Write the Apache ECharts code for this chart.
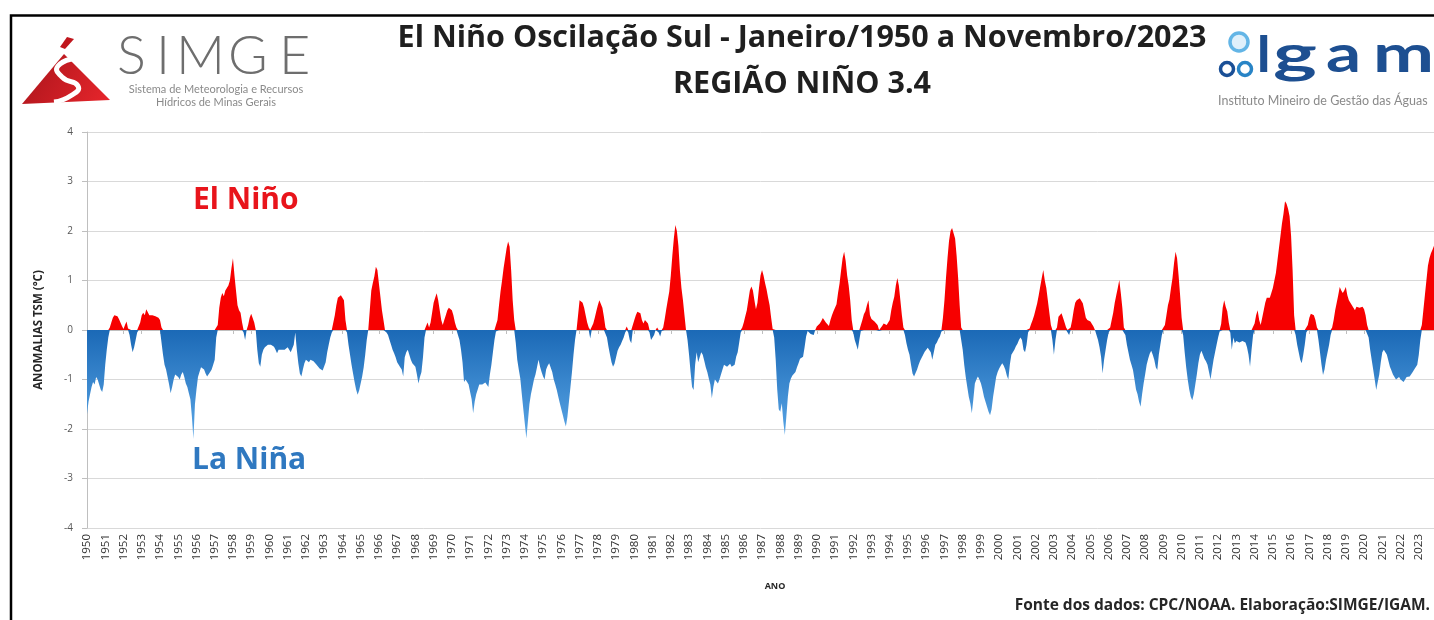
<!DOCTYPE html>
<html>
<head>
<meta charset="utf-8">
<script src="https://cdn.jsdelivr.net/npm/echarts@6/dist/echarts.min.js"></script>
<style>html,body{margin:0;padding:0;background:#fff}#c{width:1434px;height:620px}</style>
</head>
<body>
<div id="c"></div>
<script>
// ---- tick labels ----
const yearLabels = ['1950','1951','1952','1953','1954','1955','1956','1957','1958','1959',
'1960','1961','1962','1963','1964','1965','1966','1967','1968','1969',
'1970','1971','1972','1973','1974','1975','1976','1977','1978','1979',
'1980','1981','1982','1983','1984','1985','1986','1987','1988','1989',
'1990','1991','1992','1993','1994','1995','1996','1997','1998','1999',
'2000','2001','2002','2003','2004','2005','2006','2007','2008','2009',
'2010','2011','2012','2013','2014','2015','2016','2017','2018','2019',
'2020','2021','2022','2023'];
const monthLabels = ['01','02','03','04','05','06','07','08','09','10','11','12'];

// ---- monthly SST anomalies (°C), Niño 3.4, Jan/1950 .. Nov/2023 ----
const anom1950s = [
-1.7,-1.45,-1.3,-1.15,-1.05,-1.1,-0.95,-1.0,-1.1,-1.2,-1.25,-1.1,
-0.7,-0.4,-0.15,0.05,0.15,0.25,0.3,0.32,0.28,0.22,0.15,0.08,
0.02,0.1,0.17,0.03,-0.1,-0.3,-0.45,-0.35,-0.2,-0.05,0.0,0.15,
0.3,0.35,0.3,0.42,0.38,0.3,0.27,0.3,0.3,0.28,0.27,0.25,
0.2,0.05,-0.5,-0.7,-0.8,-0.95,-1.1,-1.28,-1.15,-1.0,-0.9,-0.9,
-0.95,-1.0,-0.9,-0.85,-0.95,-1.08,-1.15,-1.28,-1.4,-1.75,-2.2,-1.5,
-1.2,-0.95,-0.85,-0.75,-0.78,-0.8,-0.88,-0.94,-0.9,-0.85,-0.8,-0.7,
-0.6,-0.15,0.1,0.45,0.65,0.75,0.68,0.8,0.85,0.9,1.0,1.25,
1.45,1.1,0.8,0.5,0.4,0.35,0.15,-0.05,-0.2,0.0,0.1,0.25,
0.33,0.3,0.15,0.0,-0.4,-0.67,-0.74,-0.5,-0.4,-0.35,-0.34,-0.3];
const anom1960s = [
-0.27,-0.3,-0.3,-0.34,-0.4,-0.47,-0.4,-0.38,-0.4,-0.42,-0.4,-0.38,
-0.35,-0.4,-0.45,-0.47,-0.3,-0.05,-0.4,-0.67,-0.88,-0.94,-0.8,-0.67,
-0.6,-0.62,-0.65,-0.6,-0.62,-0.63,-0.65,-0.7,-0.74,-0.78,-0.8,-0.82,
-0.8,-0.65,-0.45,-0.3,-0.15,-0.05,0.02,0.3,0.5,0.65,0.68,0.7,
0.74,0.6,0.2,-0.05,-0.3,-0.5,-0.7,-0.88,-1.05,-1.2,-1.31,-1.22,
-1.2,-0.94,-0.75,-0.5,-0.2,0.0,0.4,0.8,0.95,1.08,1.28,1.21,
0.94,0.67,0.4,0.2,0.0,-0.05,-0.1,-0.2,-0.3,-0.4,-0.47,-0.55,
-0.65,-0.7,-0.75,-0.8,-0.94,-0.55,-0.45,-0.4,-0.5,-0.6,-0.67,-0.7,
-0.74,-0.9,-1.08,-0.95,-0.85,-0.55,-0.15,0.0,0.15,0.05,0.15,0.35,
0.55,0.65,0.74,0.6,0.4,0.2,0.1,0.2,0.3,0.4,0.45,0.47];
const anom1970s = [
0.4,0.3,0.15,0.05,0.0,-0.2,-0.4,-0.65,-1.05,-1.0,-1.05,-1.1,
-1.25,-1.4,-1.68,-1.45,-1.3,-1.2,-1.1,-1.12,-1.1,-1.08,-1.06,-1.08,
-1.15,-0.9,-0.7,-0.45,-0.2,-0.03,0.2,0.5,0.78,1.0,1.25,1.45,
1.65,1.79,1.68,1.2,0.6,0.2,-0.25,-0.6,-0.8,-0.98,-1.3,-1.6,
-1.9,-2.19,-1.85,-1.5,-1.3,-1.15,-1.0,-0.9,-0.75,-0.6,-0.74,-0.85,
-0.94,-1.0,-0.8,-0.72,-0.67,-0.7,-0.85,-1.0,-1.1,-1.21,-1.35,-1.48,
-1.6,-1.72,-1.85,-1.95,-1.75,-1.45,-1.15,-0.85,-0.5,-0.2,0.0,0.3,
0.6,0.64,0.55,0.45,0.3,0.15,0.05,-0.17,0.0,0.13,0.25,0.38,
0.5,0.6,0.57,0.45,0.27,0.05,-0.15,-0.34,-0.5,-0.65,-0.74,-0.68,
-0.55,-0.42,-0.35,-0.3,-0.22,-0.15,-0.05,0.07,-0.05,-0.2,-0.27,0.0];
const anom1980s = [
0.2,0.3,0.37,0.4,0.34,0.2,0.13,0.2,0.24,0.13,-0.05,-0.2,
-0.2,-0.1,0.0,0.05,-0.05,-0.13,-0.02,0.05,0.22,0.42,0.6,0.78,
1.1,1.5,1.85,2.12,2.0,1.7,1.2,0.85,0.6,0.3,0.0,-0.2,
-0.5,-0.85,-1.15,-1.21,-0.7,-0.45,-0.65,-0.55,-0.45,-0.5,-0.62,-0.75,
-0.85,-0.98,-1.1,-1.38,-1.15,-1.0,-0.96,-1.08,-1.0,-0.9,-0.8,-0.7,
-0.7,-0.74,-0.7,-0.68,-0.74,-0.78,-0.7,-0.54,-0.45,-0.25,-0.05,0.05,
0.15,0.28,0.4,0.6,0.8,0.88,0.8,0.6,0.42,0.55,0.85,1.1,
1.21,1.1,0.95,0.82,0.65,0.5,0.25,0.02,-0.15,-0.6,-1.2,-1.6,
-1.65,-1.48,-1.85,-2.12,-1.75,-1.35,-1.08,-0.98,-0.92,-0.9,-0.85,-0.75,
-0.67,-0.58,-0.54,-0.54,-0.35,-0.13,-0.02,-0.03,-0.08,-0.12,-0.1,0.0];
const anom1990s = [
0.07,0.1,0.13,0.18,0.24,0.2,0.15,0.12,0.08,0.2,0.3,0.38,
0.45,0.52,0.75,0.94,1.2,1.45,1.58,1.4,1.1,0.9,0.6,0.2,
-0.05,-0.2,-0.3,-0.4,-0.2,-0.02,0.2,0.32,0.38,0.5,0.6,0.3,
0.22,0.2,0.17,0.15,0.1,-0.02,-0.05,0.08,0.13,0.1,0.1,0.15,
0.2,0.4,0.55,0.67,0.9,1.05,0.9,0.6,0.3,0.05,-0.1,-0.27,
-0.4,-0.5,-0.7,-0.88,-0.94,-0.94,-0.8,-0.7,-0.62,-0.56,-0.5,-0.44,
-0.4,-0.36,-0.34,-0.45,-0.6,-0.45,-0.3,-0.25,-0.18,-0.13,-0.03,0.25,
0.6,1.05,1.45,1.8,2.0,2.06,2.06,1.85,1.5,1.05,0.5,0.05,
-0.4,-0.7,-0.95,-1.15,-1.35,-1.48,-1.68,-1.4,-1.08,-1.0,-0.94,-1.0,
-1.08,-1.2,-1.35,-1.45,-1.55,-1.65,-1.72,-1.6,-1.35,-1.15,-0.95,-0.85];
const anom2000s = [
-0.78,-0.72,-0.67,-0.72,-0.8,-0.92,-1.0,-0.7,-0.5,-0.45,-0.4,-0.33,
-0.28,-0.2,-0.15,-0.2,-0.4,-0.45,-0.3,-0.05,0.03,0.12,0.2,0.3,
0.42,0.54,0.7,0.88,1.05,1.21,1.0,0.85,0.6,0.35,0.1,-0.2,
-0.5,-0.2,0.05,0.27,0.3,0.34,0.25,0.15,0.05,-0.02,-0.1,0.05,
0.2,0.4,0.55,0.6,0.62,0.64,0.6,0.54,0.4,0.25,0.2,0.18,
0.17,0.12,0.07,0.0,-0.1,-0.2,-0.35,-0.54,-0.88,-0.6,-0.4,-0.2,
-0.05,0.05,0.2,0.35,0.55,0.7,0.85,1.01,0.75,0.45,0.05,-0.1,
-0.3,-0.45,-0.6,-0.7,-0.81,-1.0,-1.2,-1.3,-1.45,-1.55,-1.3,-1.08,
-0.9,-0.7,-0.58,-0.48,-0.42,-0.5,-0.6,-0.75,-0.81,-0.5,-0.3,-0.1,
0.03,0.1,0.3,0.5,0.62,0.85,1.05,1.35,1.58,1.45,1.1,0.7];
const anom2010s = [
0.25,-0.1,-0.45,-0.75,-1.0,-1.2,-1.35,-1.42,-1.3,-1.1,-0.9,-0.67,
-0.5,-0.42,-0.5,-0.58,-0.63,-0.7,-0.85,-1.0,-0.8,-0.6,-0.45,-0.3,
-0.15,-0.03,0.12,0.45,0.6,0.47,0.38,0.15,-0.05,-0.4,-0.15,-0.27,
-0.22,-0.2,-0.25,-0.27,-0.22,-0.2,-0.25,-0.35,-0.5,-0.74,-0.4,-0.1,
0.13,0.3,0.4,0.2,0.1,0.25,0.4,0.55,0.65,0.62,0.65,0.75,
0.85,1.0,1.15,1.4,1.65,1.9,2.15,2.35,2.6,2.55,2.45,2.3,
1.9,1.2,0.3,-0.1,-0.3,-0.45,-0.6,-0.67,-0.5,-0.3,-0.05,0.1,
0.25,0.33,0.37,0.3,0.2,0.05,-0.2,-0.45,-0.7,-0.91,-0.8,-0.6,
-0.45,-0.3,-0.1,0.05,0.2,0.4,0.55,0.7,0.87,0.8,0.75,0.8,
0.87,0.7,0.6,0.55,0.5,0.45,0.4,0.47,0.46,0.45,0.45,0.47];
const anom2020s = [
0.42,0.3,0.1,-0.15,-0.4,-0.6,-0.8,-1.0,-1.21,-1.05,-0.9,-0.65,
-0.45,-0.4,-0.45,-0.5,-0.62,-0.74,-0.82,-0.9,-0.95,-1.0,-0.98,-0.95,
-1.0,-1.03,-1.05,-1.0,-0.95,-0.95,-0.94,-0.9,-0.85,-0.8,-0.76,-0.7,
-0.5,-0.2,0.1,0.4,0.7,1.0,1.3,1.45,1.55,1.62,1.7];

const values = [].concat(anom1950s, anom1960s, anom1970s, anom1980s, anom1990s, anom2000s, anom2010s, anom2020s);
const cats = [];
yearLabels.forEach(y => monthLabels.forEach(m => cats.push(y + '-' + m)));
cats.length = values.length;
const pos = values.map(v => (v > 0 ? v : 0));
const neg = values.map(v => (v < 0 ? v : 0));

const chart = echarts.init(document.getElementById('c'), null, {renderer: 'canvas'});
const blueGrad = new echarts.graphic.LinearGradient(0, 0, 0, 1, [
  {offset: 0, color: '#1b69b6'}, {offset: 1, color: '#5aa6e6'}]);
const simgeGrad = new echarts.graphic.LinearGradient(0, 0, 1, 1, [
  {offset: 0, color: '#a9141b'}, {offset: 1, color: '#e8262c'}]);

const option = {
  animation: false,
  backgroundColor: '#ffffff',
  grid: {left: 87, right: 0, top: 132, bottom: 92, containLabel: false},
  xAxis: {
    type: 'category', data: cats, boundaryGap: false,
    axisLine: {show: true, lineStyle: {color: '#bfbfbf', width: 1}},
    axisTick: {show: true, interval: 11, length: 4, lineStyle: {color: '#bfbfbf'}},
    axisLabel: {interval: 11, rotate: 90, fontSize: 11.5, color: '#333333', fontFamily: 'Open Sans', margin: 6,
      formatter: v => v.slice(0, 4)},
    splitLine: {show: false}
  },
  yAxis: {
    type: 'value', min: -4, max: 4, interval: 1,
    name: 'ANOMALIAS TSM (°C)', nameLocation: 'middle', nameGap: 42, nameRotate: 90,
    nameTextStyle: {fontSize: 11.5, fontWeight: 'bold', color: '#262626', fontFamily: 'Open Sans'},
    axisLine: {show: true, lineStyle: {color: '#bfbfbf'}},
    axisTick: {show: true, length: 5, lineStyle: {color: '#bfbfbf'}},
    axisLabel: {fontSize: 10, color: '#595959', fontFamily: 'Open Sans', margin: 14},
    splitLine: {show: true, lineStyle: {color: '#d9d9d9', width: 1}}
  },
  series: [
    {type: 'line', name: 'El Niño', data: pos, symbol: 'none', showSymbol: false,
     lineStyle: {width: 0}, areaStyle: {color: '#f70000', opacity: 1}, z: 3},
    {type: 'line', name: 'La Niña', data: neg, symbol: 'none', showSymbol: false,
     lineStyle: {width: 0}, areaStyle: {color: blueGrad, opacity: 1}, z: 3}
  ],
  graphic: [
    {type: 'rect', z: 100, shape: {x: 11, y: 15.5, width: 1440, height: 640},
     style: {fill: 'none', stroke: '#000000', lineWidth: 2.5}},
    // title
    {type: 'text', x: 802, y: 38, z: 50, style: {text: 'El Niño Oscilação Sul - Janeiro/1950 a Novembro/2023',
      font: 'bold 30.5px "Open Sans"', fill: '#1f1f1f', align: 'center', verticalAlign: 'middle'}},
    {type: 'text', x: 802, y: 84, z: 50, style: {text: 'REGIÃO NIÑO 3.4',
      font: 'bold 30.5px "Open Sans"', fill: '#1f1f1f', align: 'center', verticalAlign: 'middle'}},
    // SIMGE logo
    {type: 'polygon', z: 50, shape: {points: [[22, 104], [64, 54], [110, 100]]}, style: {fill: simgeGrad}},
    {type: 'polyline', z: 51, shape: {points: [[78, 58], [58, 66], [62, 77], [78, 86], [72, 95], [54, 102]], smooth: 0.6},
     style: {fill: 'none', stroke: '#ffffff', lineWidth: 5}},
    {type: 'polygon', z: 51, shape: {points: [[60, 47], [67, 37], [74, 39], [65, 49]]}, style: {fill: '#c0161d'}},
    {type: 'text', x: 117, y: 57, z: 50, style: {text: 'S', font: '300 54px Lato', fill: '#6e6e6e', verticalAlign: 'middle'}},
    {type: 'text', x: 156, y: 57, z: 50, style: {text: 'I', font: '300 54px Lato', fill: '#6e6e6e', verticalAlign: 'middle'}},
    {type: 'text', x: 176, y: 57, z: 50, style: {text: 'M', font: '300 54px Lato', fill: '#6e6e6e', verticalAlign: 'middle'}},
    {type: 'text', x: 228, y: 57, z: 50, style: {text: 'G', font: '300 54px Lato', fill: '#6e6e6e', verticalAlign: 'middle'}},
    {type: 'text', x: 279, y: 57, z: 50, style: {text: 'E', font: '300 54px Lato', fill: '#6e6e6e', verticalAlign: 'middle'}},
    {type: 'text', x: 216, y: 89, z: 50, style: {text: 'Sistema de Meteorologia e Recursos', font: '11px Lato', fill: '#8a8a8a', align: 'center', verticalAlign: 'middle'}},
    {type: 'text', x: 216, y: 102, z: 50, style: {text: 'Hídricos de Minas Gerais', font: '11px Lato', fill: '#8a8a8a', align: 'center', verticalAlign: 'middle'}},
    // IGAM logo
    {type: 'circle', z: 50, shape: {cx: 1239, cy: 42, r: 9}, style: {fill: '#dff0fb', stroke: '#63b5e6', lineWidth: 3.5}},
    {type: 'circle', z: 51, shape: {cx: 1227, cy: 69, r: 6.5}, style: {fill: '#ffffff', stroke: '#1a4f96', lineWidth: 3.5}},
    {type: 'circle', z: 51, shape: {cx: 1245, cy: 69, r: 6.5}, style: {fill: '#ffffff', stroke: '#2884c6', lineWidth: 3.5}},
    {type: 'text', x: 1256, y: 55, z: 50, style: {text: 'I', font: 'bold 52px Lato', fill: '#1d4f91', verticalAlign: 'middle'}},
    {type: 'text', x: 1273, y: 55, z: 50, scaleX: 1.6, style: {text: 'g', font: 'bold 52px Lato', fill: '#1d4f91', verticalAlign: 'middle'}},
    {type: 'text', x: 1326, y: 55, z: 50, scaleX: 1.33, style: {text: 'a', font: 'bold 52px Lato', fill: '#1d4f91', verticalAlign: 'middle'}},
    {type: 'text', x: 1373, y: 55, z: 50, scaleX: 1.4, style: {text: 'm', font: 'bold 52px Lato', fill: '#1d4f91', verticalAlign: 'middle'}},
    {type: 'text', x: 1218, y: 101, z: 50, style: {text: 'Instituto Mineiro de Gestão das Águas', font: '12.5px Lato', fill: '#8a8a8a', verticalAlign: 'middle'}},
    // annotations
    {type: 'text', x: 193, y: 200, z: 50, style: {text: 'El Niño', font: 'bold 30px "Open Sans"', fill: '#e8141b', verticalAlign: 'middle'}},
    {type: 'text', x: 192, y: 460, z: 50, style: {text: 'La Niña', font: 'bold 30px "Open Sans"', fill: '#2f78c0', verticalAlign: 'middle'}},
    {type: 'text', x: 775, y: 586, z: 50, style: {text: 'ANO', font: 'bold 9px "Open Sans"', fill: '#262626', align: 'center', verticalAlign: 'middle'}},
    {type: 'text', x: 1430, y: 606, z: 50, style: {text: 'Fonte dos dados: CPC/NOAA. Elaboração:SIMGE/IGAM.', font: 'bold 15.5px "Open Sans"', fill: '#262626', align: 'right', verticalAlign: 'middle'}}
  ]
};
chart.setOption(option);
</script>
</body>
</html>
